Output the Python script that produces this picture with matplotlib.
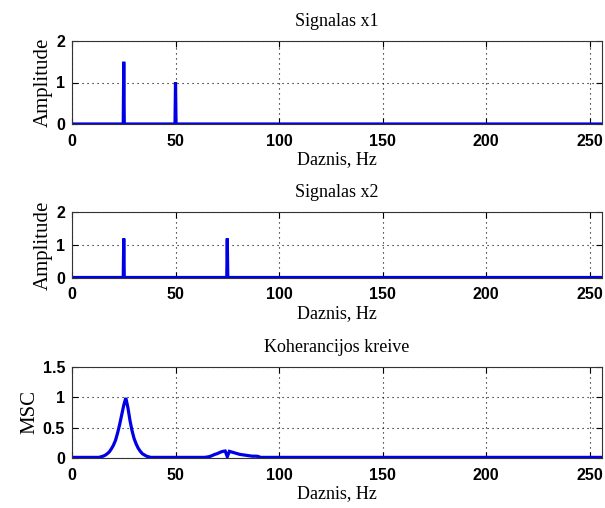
import numpy as np
import matplotlib
matplotlib.use("Agg")
import matplotlib.pyplot as plt

# spectrum frequency axis (Hz), fine bins so the lines look like sticks
freq = np.arange(0, 256.25, 0.25)

# signal x1 spectral lines
x1_peak_freq = [25, 50]
x1_peak_amp = [1.5, 1.0]

# signal x2 spectral lines
x2_peak_freq = [25, 75]
x2_peak_amp = [1.2, 1.2]

# coherence curve (MSC)
msc_freq = [0, 13, 14, 15, 16, 17, 18, 19, 20, 21, 22, 23, 24, 25, 26, 27, 28, 29,
            30, 31, 32, 33, 34, 35, 36, 37, 38, 64, 65, 66, 67, 68, 69, 70, 71, 72,
            73, 74, 75, 76, 77, 78, 79, 80, 81, 82, 83, 84, 85, 86, 87, 88, 89, 90,
            91, 256]
msc_vals = [0.01, 0.01, 0.02, 0.03, 0.045, 0.07, 0.10, 0.15, 0.21, 0.29, 0.41, 0.55,
            0.71, 0.87, 0.99, 0.83, 0.62, 0.45, 0.32, 0.23, 0.16, 0.11, 0.07, 0.05,
            0.03, 0.02, 0.01, 0.01, 0.015, 0.02, 0.03, 0.045, 0.06, 0.07, 0.085, 0.10,
            0.11, 0.115, 0.02, 0.11, 0.10, 0.09, 0.08, 0.07, 0.06, 0.055, 0.05, 0.045,
            0.04, 0.035, 0.03, 0.03, 0.03, 0.025, 0.01, 0.01]

x1_amp = np.zeros(len(freq))
x1_amp[np.searchsorted(freq, x1_peak_freq)] = x1_peak_amp
x2_amp = np.zeros(len(freq))
x2_amp[np.searchsorted(freq, x2_peak_freq)] = x2_peak_amp

BLUE = '#0000e6'
SERIF = 'Liberation Serif'
SANS = 'Liberation Sans'

fig = plt.figure(figsize=(6.05, 5.08), dpi=100)
W, H = 605.0, 508.0
left, right = 72 / W, 602 / W

def make_ax(top_px, bot_px):
    return fig.add_axes([left, 1 - bot_px / H, right - left, (bot_px - top_px) / H])

ax1 = make_ax(41, 124)
ax2 = make_ax(212.5, 277.5)
ax3 = make_ax(367, 458)

panels = [
    (ax1, freq, x1_amp, 'Signalas x1', 'Amplitude', (0, 2), [0, 1, 2], ['0', '1', '2']),
    (ax2, freq, x2_amp, 'Signalas x2', 'Amplitude', (0, 2), [0, 1, 2], ['0', '1', '2']),
    (ax3, msc_freq, msc_vals, 'Koherancijos kreive', 'MSC', (0, 1.5),
     [0, 0.5, 1, 1.5], ['0', '0.5', '1', '1.5']),
]

for ax, xs, ys, title, ylab, ylim, yt, ytl in panels:
    ax.plot(xs, ys, color=BLUE, lw=2.3, solid_joinstyle='miter')
    ax.set_xlim(0, 256)
    ax.set_ylim(*ylim)
    ax.set_xticks([0, 50, 100, 150, 200, 250])
    ax.set_xticklabels(['0', '50', '100', '150', '200', '250'], family=SANS,
                       fontsize=11.5, fontweight='bold')
    ax.set_yticks(yt)
    ax.set_yticklabels(ytl, family=SANS, fontsize=11.5, fontweight='bold')
    ax.tick_params(direction='in', length=4, width=0.8, top=True, right=True,
                   color='black')
    ax.tick_params(axis='x', pad=7)
    ax.tick_params(axis='y', pad=5)
    ax.grid(True, color='black', linestyle=(0, (1, 3.5)), linewidth=0.8)
    for sp in ax.spines.values():
        sp.set_linewidth(0.8)
        sp.set_color('#333333')
    ax.set_title(title, family=SERIF, fontsize=13, pad=11)
    ax.set_xlabel('Daznis, Hz', family=SERIF, fontsize=13, labelpad=2)
    ax.set_ylabel(ylab, family=SERIF, fontsize=15, labelpad=2)

fig.savefig('out.png', dpi=100)
